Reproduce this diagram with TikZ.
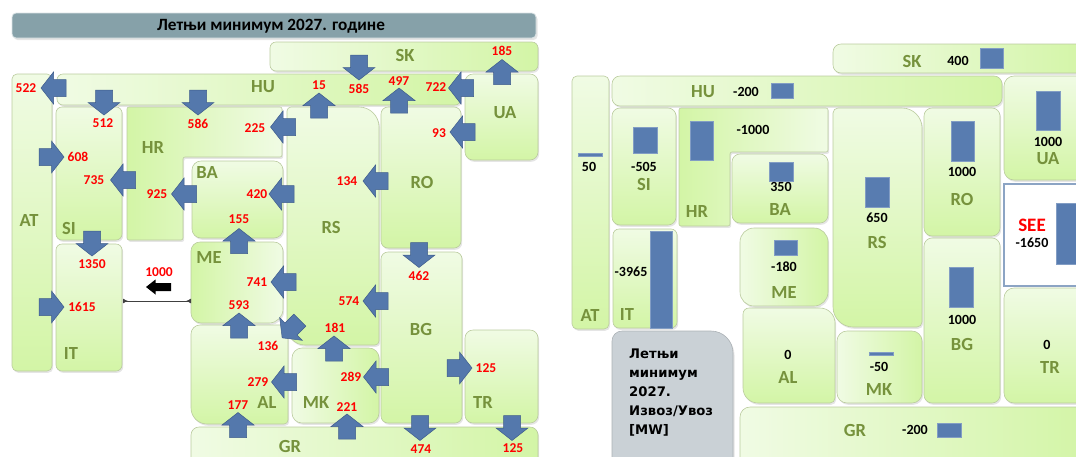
\documentclass[tikz,border=0pt]{standalone}
\usepackage{fontspec}
\setmainfont{Carlito}
\newfontfamily\legendfont{DejaVu Sans}
\usetikzlibrary{arrows.meta}
\definecolor{lite}{RGB}{240,251,228}
\definecolor{dark}{RGB}{211,245,166}
\definecolor{bord}{RGB}{186,203,158}
\definecolor{olive}{RGB}{118,146,60}
\definecolor{arrowblue}{RGB}{84,120,172}
\definecolor{arrowedge}{RGB}{62,92,140}
\definecolor{barblue}{RGB}{88,124,176}
\definecolor{titlefill}{RGB}{134,161,169}
\definecolor{legendfill}{RGB}{202,209,214}
\definecolor{seeedge}{RGB}{140,164,196}
% rounded rectangle with individual corner radii: x1 y1 x2 y2 rTL rTR rBR rBL
\newcommand\rrdraw[9][]{\path[#1] ({#2+#6},#3) -- ({#4-#7},#3) .. controls ({#4-0.448*#7},#3) and (#4,{#3+0.448*#7}) .. (#4,{#3+#7}) -- (#4,{#5-#8}) .. controls (#4,{#5-0.448*#8}) and ({#4-0.448*#8},#5) .. ({#4-#8},#5) -- ({#2+#9},#5) .. controls ({#2+0.448*#9},#5) and (#2,{#5-0.448*#9}) .. (#2,{#5-#9}) -- (#2,{#3+#6}) .. controls (#2,{#3+0.448*#6}) and ({#2+0.448*#6},#3) .. ({#2+#6},#3) -- cycle;}
\newcommand\bx[9][]{\rrdraw[shadowc,shift={(1.2,1.8)}]{#2}{#3}{#4}{#5}{#6}{#7}{#8}{#9}\rrdraw[box,#1]{#2}{#3}{#4}{#5}{#6}{#7}{#8}{#9}}
\newcommand\blk[3]{\path[arr, shift={(#1,#2)}, rotate=#3] (-12.5,-8.5) -- (0,-8.5) -- (0,-16) -- (12.5,0) -- (0,16) -- (0,8.5) -- (-12.5,8.5) -- cycle;}
\begin{document}
\begin{tikzpicture}[x=1pt,y=-1pt,
  lab/.style={font=\fontsize{18.5}{18.5}\selectfont\bfseries, text=olive, inner sep=0pt},
  num/.style={font=\fontsize{13.5}{13.5}\selectfont\bfseries, text=red, inner sep=0pt},
  bnum/.style={font=\fontsize{14}{14}\selectfont\bfseries, text=black, inner sep=0pt},
  bar/.style={fill=barblue, draw=barblue!75!white, line width=0.4pt},
  arr/.style={fill=arrowblue, draw=arrowedge, line width=0.5pt},
  box/.style={draw=bord, line width=0.6pt},
  shadowc/.style={fill=black, opacity=0.10},
  sh/.style={left color=lite, right color=dark},
  shr/.style={left color=dark, right color=lite},
  sv/.style={top color=lite, bottom color=dark}]
\useasboundingbox (0,0) rectangle (1076,456);
\clip (0,0) rectangle (1076,456);

% ================= LEFT DIAGRAM =================
\path[shadowc, shift={(1.5,2)}, rounded corners=4] (12,13) rectangle (536,38);
\path[fill=titlefill, draw=white!70!titlefill, line width=0.8pt, rounded corners=4] (12,13) rectangle (536,38);
\node[font=\fontsize{17.2}{17.2}\selectfont\bfseries, inner sep=0pt] (title) at (271,26) {Летњи минимум 2027. године};

\bx[sh]{270}{42}{538}{71}{6}{6}{6}{6}
\bx[sh]{57}{74}{461}{105}{6}{6}{6}{6}
\bx[sv]{465}{74}{538}{160}{8}{8}{8}{8}
\bx[sv]{12}{74}{52}{371}{5}{5}{5}{5}
\bx[sv]{56}{107}{122}{240}{6}{6}{6}{6}
\path[shadowc, shift={(1.2,1.8)}, rounded corners=2] (127,107) -- (282,107) -- (282,157) -- (183,157) -- (183,240) -- (127,240) -- cycle;
\path[box, shr, rounded corners=2] (127,107) -- (282,107) -- (282,157) -- (183,157) -- (183,240) -- (127,240) -- cycle;
\bx[sv]{192}{161}{283}{238}{9}{9}{9}{9}
\bx[sv]{287}{107}{379}{345}{4}{20}{4}{18}
\bx[sv]{381}{107}{461}{248}{7}{7}{7}{7}
\bx[shr]{191}{242}{283}{323}{9}{9}{14}{10}
\bx[sv]{56}{244}{122}{371}{6}{6}{6}{6}
\bx[sv]{381}{252}{462}{423}{7}{7}{7}{7}
\bx[sv]{191}{325}{288}{424}{9}{5}{4}{16}
\bx[sh]{292}{348}{379}{423}{10}{10}{10}{10}
\bx[sv]{465}{330}{538}{423}{8}{8}{8}{8}
\bx[sh]{191}{427}{538}{475}{8}{8}{8}{8}

% block arrows
\blk{53.5}{88}{180}
\blk{104}{102.5}{270}
\blk{198}{102.5}{270}
\blk{283}{127}{180}
\blk{319}{105.5}{90}
\blk{359}{67.5}{270}
\blk{399}{100.5}{90}
\blk{461}{88}{180}
\blk{502}{72}{90}
\blk{462.5}{132}{180}
\blk{51.5}{157}{0}
\blk{123}{180}{180}
\blk{184}{194}{180}
\blk{281.5}{194}{180}
\blk{375.5}{181}{180}
\blk{239}{241}{90}
\blk{92}{243.5}{270}
\blk{419}{255}{270}
\blk{283.5}{282}{180}
\blk{375.5}{301}{180}
\blk{51.5}{307}{0}
\blk{239}{325.5}{90}
\blk{291}{329}{225}
\blk{334}{348.5}{90}
\blk{284}{382}{180}
\blk{376}{377}{180}
\blk{459.5}{368}{0}
\blk{238}{425}{90}
\blk{347}{426.5}{90}
\blk{420}{428}{270}
\blk{512}{428}{270}

% link IT - ME with black arrow
\coordinate (lk1) at (123,301);
\coordinate (lk2) at (191,301);
\draw[line width=0.8pt, black!75, {Latex[reversed,length=5pt,width=5pt]}-{Latex[reversed,length=5pt,width=5pt]}] (lk1) -- (lk2);
\path[fill=black, shift={(158.5,287)}, rotate=180] (-12.5,-4) -- (3,-4) -- (3,-7.5) -- (12.5,0) -- (3,7.5) -- (3,4) -- (-12.5,4) -- cycle;

% country labels
\node[lab] (lSK) at (405,55) {SK};
\node[lab] (lHU) at (263,87) {HU};
\node[lab] (lUA) at (505,113) {UA};
\node[lab] (lHR) at (153,147) {HR};
\node[lab] (lAT) at (29,220) {AT};
\node[lab] (lSI) at (69,228) {SI};
\node[lab] (lBA) at (207,172) {BA};
\node[lab] (lRO) at (422,182) {RO};
\node[lab] (lRS) at (331,227) {RS};
\node[lab] (lME) at (209,257) {ME};
\node[lab] (lBG) at (421,329) {BG};
\node[lab] (lIT) at (71,353) {IT};
\node[lab] (lAL) at (267,402) {AL};
\node[lab] (lMK) at (316,402) {MK};
\node[lab] (lTR) at (483,402) {TR};
\node[lab] (lGR) at (290,446) {GR};

% flow numbers
\node[num] (n1) at (26,88) {522};
\node[num] (n2) at (103,123) {512};
\node[num] (n3) at (198,124) {586};
\node[num] (n4) at (255,128) {225};
\node[num] (n5) at (319,85) {15};
\node[num] (n6) at (359,89) {585};
\node[num] (n7) at (399,81) {497};
\node[num] (n8) at (436,87) {722};
\node[num] (n9) at (502,51) {185};
\node[num] (n10) at (439,133) {93};
\node[num] (n11) at (78,157) {608};
\node[num] (n12) at (94,180) {735};
\node[num] (n13) at (157,194) {925};
\node[num] (n14) at (257,194) {420};
\node[num] (n15) at (347,181) {134};
\node[num] (n16) at (239,219) {155};
\node[num] (n17) at (92,264) {1350};
\node[num] (n18) at (419,276) {462};
\node[num] (n19) at (257,282) {741};
\node[num] (n20) at (349,301) {574};
\node[num] (n21) at (159,272) {1000};
\node[num] (n22) at (82,307) {1615};
\node[num] (n23) at (239,305) {593};
\node[num] (n24) at (268,346) {136};
\node[num] (n25) at (335,328) {181};
\node[num] (n26) at (258,382) {279};
\node[num] (n27) at (351,377) {289};
\node[num] (n28) at (486,368) {125};
\node[num] (n29) at (238,405) {177};
\node[num] (n30) at (347,407) {221};
\node[num] (n31) at (421,449) {474};
\node[num] (n32) at (513,448) {125};

% ================= RIGHT DIAGRAM =================
\bx[sh]{833}{44}{1090}{73}{8}{8}{8}{8}
\bx[sh]{612}{76}{1002}{106}{8}{8}{8}{8}
\bx[sv]{572}{76}{609}{329}{5}{5}{5}{5}
\bx[sv]{612}{108}{676}{225}{8}{8}{8}{8}
\path[shadowc, shift={(1.2,1.8)}, rounded corners=2] (679,108) -- (828,108) -- (828,152) -- (730,152) -- (730,226) -- (679,226) -- cycle;
\path[box, shr, rounded corners=2] (679,108) -- (828,108) -- (828,152) -- (730,152) -- (730,226) -- (679,226) -- cycle;
\bx[sv]{732}{154}{828}{223}{8}{8}{8}{8}
\bx[sv]{833}{108}{922}{327}{5}{20}{5}{20}
\bx[sv]{924}{108}{1000}{236}{8}{8}{8}{8}
\bx[sv]{1004}{76}{1090}{180}{10}{10}{10}{10}
\path[fill=white, draw=seeedge, line width=1.2pt] (1004,184) rectangle (1090,286);
\bx[sv]{1004}{288}{1090}{403}{10}{10}{10}{10}
\bx[sv]{924}{238}{1000}{403}{8}{8}{8}{8}
\bx[sh]{837}{331}{922}{403}{10}{10}{10}{10}
\bx[sh]{740}{407}{1090}{470}{10}{10}{10}{10}
\bx[sh]{740}{228}{828}{306}{14}{14}{14}{14}
\bx[sv]{743}{308}{835}{403}{6}{15}{5}{15}
\bx[sv]{613}{229}{677}{328}{6}{6}{6}{6}
\rrdraw[shadowc,shift={(1.5,2)}]{612}{331}{733}{470}{10}{22}{10}{10}
\rrdraw[fill=legendfill, draw=legendfill!85!black, line width=0.6pt]{612}{331}{733}{470}{10}{22}{10}{10}

% bars
\path[bar] (980,48) rectangle (1003,68);
\path[bar] (771,83) rectangle (793,98);
\path[bar] (578,153) rectangle (602,156);
\path[bar] (633,127) rectangle (657,153);
\path[bar] (690,121) rectangle (713,160);
\path[bar] (769,162) rectangle (793,181);
\path[bar] (865,177) rectangle (889,207);
\path[bar] (951,121) rectangle (974,161);
\path[bar] (1036,91) rectangle (1060,130);
\path[bar] (1056,203) rectangle (1090,264);
\path[bar] (949,267) rectangle (973,307);
\path[bar] (869,352) rectangle (893,355);
\path[bar] (937,423) rectangle (961,437);
\path[bar] (774,240) rectangle (797,255);
\path[bar] (650,231) rectangle (672,328);

% labels
\node[lab] (rSK) at (912,61) {SK};
\node[bnum] (vSK) at (958,61) {400};
\node[lab] (rHU) at (703,92) {HU};
\node[bnum] (vHU) at (746,92) {-200};
\node[bnum] (vAT) at (589,167) {50};
\node[lab] (rAT) at (590,315) {AT};
\node[bnum] (vSI) at (644,167) {-505};
\node[lab] (rSI) at (644,184) {SI};
\node[bnum] (vHR) at (753,130) {-1000};
\node[lab] (rHR) at (697,211) {HR};
\node[bnum] (vBA) at (781,187) {350};
\node[lab] (rBA) at (780,209) {BA};
\node[bnum] (vRS) at (877,218) {650};
\node[lab] (rRS) at (877,242) {RS};
\node[bnum] (vRO) at (962,172) {1000};
\node[lab] (rRO) at (962,199) {RO};
\node[bnum] (vUA) at (1048,142) {1000};
\node[lab] (rUA) at (1048,159) {UA};
\node[font=\fontsize{19}{19}\selectfont\bfseries, text=red, inner sep=0pt] (see) at (1032,225) {SEE};
\node[bnum] (vSEE) at (1032,243) {-1650};
\node[bnum] (vTR) at (1047,345) {0};
\node[lab] (rTR) at (1050,367) {TR};
\node[bnum] (vBG) at (962,320) {1000};
\node[lab] (rBG) at (962,344) {BG};
\node[bnum] (vMK) at (879,367) {-50};
\node[lab] (rMK) at (879,389) {MK};
\node[lab] (rGR) at (855,430) {GR};
\node[bnum] (vGR) at (915,430) {-200};
\node[bnum] (vME) at (784,267) {-180};
\node[lab] (rME) at (784,292) {ME};
\node[bnum] (vAL) at (788,355) {0};
\node[lab] (rAL) at (788,377) {AL};
\node[bnum] (vIT) at (631,272) {-3965};
\node[lab] (rIT) at (627,314) {IT};
\node[font=\legendfont\fontsize{13.2}{19}\selectfont\bfseries, align=left, anchor=west, inner sep=0pt] (legend) at (629,393) {Летњи\\минимум\\2027.\\Извоз/Увоз\\{[MW]}};
\end{tikzpicture}
\end{document}
